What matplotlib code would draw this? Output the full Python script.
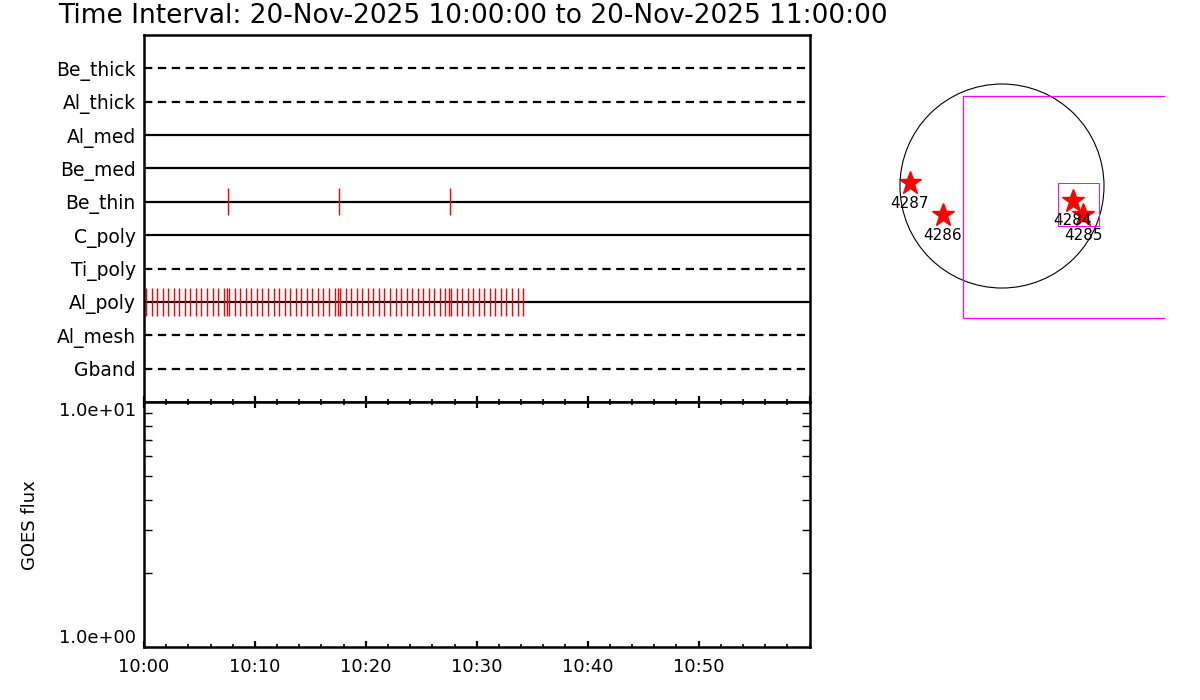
import numpy as np
import matplotlib
matplotlib.use("Agg")
import matplotlib.pyplot as plt
from matplotlib.patches import Circle, Rectangle
from matplotlib.ticker import LogLocator, NullFormatter, MultipleLocator

plt.rcParams["font.family"] = ["DejaVu Sans"]
plt.rcParams["lines.scale_dashes"] = False

# ---- data ----
title = "Time Interval: 20-Nov-2025 10:00:00 to 20-Nov-2025 11:00:00"
filters = ["Be_thick", "Al_thick", "Al_med", "Be_med", "Be_thin",
           "C_poly", "Ti_poly", "Al_poly", "Al_mesh", "Gband"]
dashed = ["Be_thick", "Al_thick", "Ti_poly", "Al_mesh", "Gband"]

# exposure times, minutes after 10:00
be_thin_times = [7.6, 17.6, 27.6]
al_poly_times = [0.18, 0.68, 1.18, 1.68, 2.18, 2.68, 3.18, 3.68, 4.18, 4.68,
                 5.18, 5.68, 6.18, 6.68, 7.18, 7.5, 7.68, 8.18, 8.68, 9.18,
                 9.68, 10.18, 10.68, 11.18, 11.68, 12.18, 12.68, 13.18, 13.68,
                 14.18, 14.68, 15.18, 15.68, 16.18, 16.68, 17.18, 17.5, 17.68,
                 18.18, 18.68, 19.18, 19.68, 20.18, 20.68, 21.18, 21.68, 22.18,
                 22.68, 23.18, 23.68, 24.18, 24.68, 25.18, 25.68, 26.18, 26.68,
                 27.18, 27.5, 27.68, 28.18, 28.68, 29.18, 29.68, 30.18, 30.68,
                 31.18, 31.68, 32.18, 32.68, 33.18, 33.68, 34.18]

time_ticks = [0, 10, 20, 30, 40, 50]
time_labels = ["10:00", "10:10", "10:20", "10:30", "10:40", "10:50"]

goes_ylim = [1.0, 10.0]

# active regions (arcsec from disk centre)
sun_radius = 960
ar_nums = ["4287", "4286", "4284", "4285"]
ar_x = [-866, -558, 665, 765]
ar_y = [25, -273, -138, -273]
fov_big = [-364, -1245, 2200, 2092]    # x0, y0, width, height
fov_small = [530, -374, 386, 399]

# ---- figure ----
fig = plt.figure(figsize=(12, 7), dpi=100)
ax1 = fig.add_axes([0.12, 0.4257, 0.5546, 0.5243])
ax2 = fig.add_axes([0.12, 0.0757, 0.5546, 0.35])

rows = list(range(len(filters), 0, -1))
for name, yy in zip(filters, rows):
    ls = (0, (6, 4)) if name in dashed else "-"
    ax1.plot([0, 60], [yy, yy], color="black", lw=1.6, ls=ls)

yb = rows[filters.index("Be_thin")]
ax1.vlines(be_thin_times, yb - 0.4, yb + 0.4, color="red", lw=1)
ya = rows[filters.index("Al_poly")]
ax1.vlines(al_poly_times, ya - 0.42, ya + 0.42, color="red", lw=1)

ax1.set_xlim(0, 60)
ax1.set_ylim(0, 11)
ax1.set_yticks(rows)
ax1.set_yticklabels(filters, fontsize=13.5)
ax1.tick_params(axis="y", length=0, pad=6)
ax1.xaxis.set_major_locator(MultipleLocator(10))
ax1.xaxis.set_minor_locator(MultipleLocator(2))
ax1.tick_params(axis="x", which="major", direction="in", length=4.5, width=1.6,
                labelbottom=False)
ax1.tick_params(axis="x", which="minor", direction="in", length=2.2, width=1.2)

# GOES panel (empty)
ax2.set_yscale("log")
ax2.set_ylim(*goes_ylim)
ax2.set_xlim(0, 60)
ax2.set_xticks(time_ticks)
ax2.set_xticklabels(time_labels, fontsize=13)
ax2.xaxis.set_minor_locator(MultipleLocator(2))
ax2.tick_params(axis="x", which="major", direction="in", length=4.5, width=1.6,
                top=True, pad=8)
ax2.tick_params(axis="x", which="minor", direction="in", length=2.2, width=1.2,
                top=True)
ax2.set_yticks(goes_ylim)
ax2.set_yticklabels(["1.0e+00", "1.0e+01"], fontsize=13)
ax2.yaxis.set_minor_locator(LogLocator(base=10, subs=np.arange(2, 10)))
ax2.yaxis.set_minor_formatter(NullFormatter())
ax2.tick_params(axis="y", which="major", length=0, pad=6)
ax2.tick_params(axis="y", which="minor", direction="in", length=6, width=1,
                left=True, right=True)
lbls = ax2.get_yticklabels()
lbls[0].set_verticalalignment("bottom")
lbls[1].set_verticalalignment("top")

for ax in (ax1, ax2):
    for sp in ax.spines.values():
        sp.set_linewidth(1.8)

fig.text(30 / 1200, 1 - 525 / 700, "GOES flux", rotation=90, fontsize=13,
         ha="center", va="center")
fig.text(58 / 1200, 1 - 16 / 700, title, fontsize=19, ha="left", va="center")

# solar disk panel
ax3 = fig.add_axes([880 / 1200, 1 - 330 / 700, 285 / 1200, 270 / 700])
ax3.set_xlim(-1148, 1534)
ax3.set_ylim(-1355, 1186)
ax3.axis("off")
ax3.add_patch(Circle((0, 0), sun_radius, fill=False, ec="black", lw=0.8))
ax3.add_patch(Rectangle((fov_big[0], fov_big[1]), fov_big[2], fov_big[3],
                        fill=False, ec="magenta", lw=0.9, clip_on=True))
ax3.add_patch(Rectangle((fov_small[0], fov_small[1]), fov_small[2], fov_small[3],
                        fill=False, ec="magenta", lw=0.7))
ax3.plot(ar_x, ar_y, ls="none", marker="*", ms=17, color="red", mec="red")
for num, xx, yy in zip(ar_nums, ar_x, ar_y):
    ax3.annotate(num, (xx, yy), xytext=(0, -14.4), textcoords="offset points",
                 ha="center", va="center", fontsize=11)

fig.savefig("out.png", dpi=100)
